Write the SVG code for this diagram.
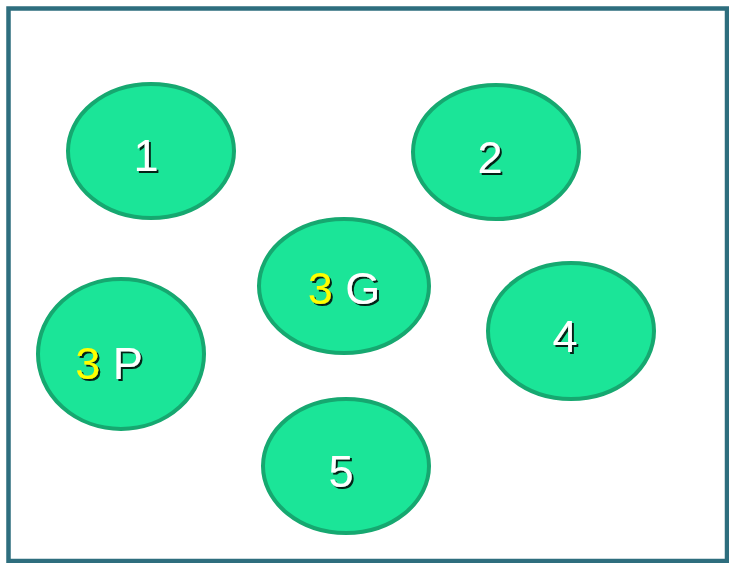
<svg xmlns="http://www.w3.org/2000/svg" width="729" height="563" viewBox="0 0 729 563">
<defs>
<filter id="sh" x="-20%" y="-20%" width="140%" height="140%"><feDropShadow dx="2" dy="2" stdDeviation="0.4" flood-color="#000" flood-opacity="0.85"/></filter>
</defs>
<style>
.n{fill:#1BE598;stroke:#16A870;stroke-width:4}
.t{font-family:"Liberation Sans",Arial,sans-serif;font-size:45px;fill:#fff;text-anchor:middle;filter:url(#sh)}
.y{fill:#FFFF00}
</style>
<rect x="0" y="0" width="729" height="563" fill="#fff"/>
<rect x="8.5" y="8.5" width="718.5" height="552.5" fill="#fff" stroke="#2E6E7E" stroke-width="4.5"/>
<g id="connectors"></g>
<g id="n1"><ellipse class="n" cx="151" cy="151" rx="83" ry="67"/><text class="t" x="146" y="171">1</text></g>
<g id="n2"><ellipse class="n" cx="496" cy="152" rx="83" ry="67"/><text class="t" x="490" y="173">2</text></g>
<g id="n3g"><ellipse class="n" cx="344" cy="286" rx="85" ry="67"/><text x="344" y="304" class="t"><tspan class="y">3</tspan> G</text></g>
<g id="n3p"><ellipse class="n" cx="121" cy="354" rx="83" ry="75"/><text x="109" y="379" class="t"><tspan class="y">3</tspan> P</text></g>
<g id="n4"><ellipse class="n" cx="571" cy="331" rx="83" ry="68"/><text class="t" x="565" y="352">4</text></g>
<g id="n5"><ellipse class="n" cx="346" cy="466" rx="83" ry="67"/><text class="t" x="341" y="487">5</text></g>
</svg>
